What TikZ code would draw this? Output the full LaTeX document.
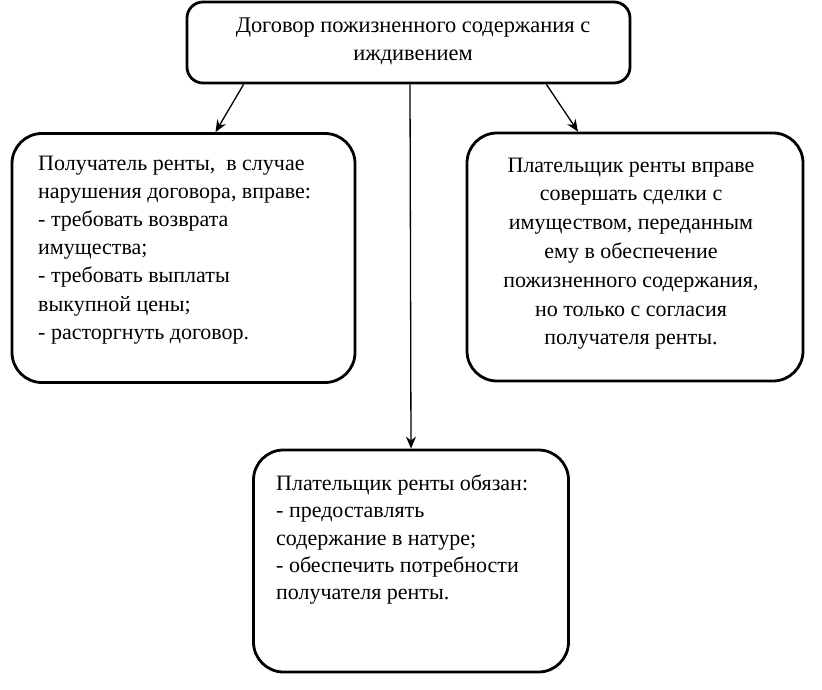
\documentclass[tikz,border=0pt]{standalone}
\usepackage{fontspec}
\setmainfont{Liberation Serif}
\usetikzlibrary{arrows.meta,calc}
\begin{document}
\begin{tikzpicture}[x=1pt,y=-1pt,
 box/.style={draw, line width=2.8pt, rounded corners=30pt, inner sep=0pt},
 txt/.style={font=\fontsize{22}{28}\selectfont, inner sep=0pt},
 arr/.style={line width=1.3pt, -{Stealth[length=12pt,width=10pt]}}]
\useasboundingbox (0,0) rectangle (822,690);
\node[box, rounded corners=16pt, minimum width=443pt, minimum height=81pt] (top) at (408.5,42.5) {};
\node[box, minimum width=343pt, minimum height=249pt] (left) at (183.5,258) {};
\node[box, minimum width=336pt, minimum height=248pt] (right) at (635,257) {};
\node[box, minimum width=315pt, minimum height=222pt] (bottom) at (411,561) {};
\node[txt, font=\fontsize{22.4}{28}\selectfont, align=center, anchor=north] (toptxt) at (413,17.5) {Договор пожизненного содержания с\\иждивением};
\node[txt, font=\fontsize{22}{28.2}\selectfont, align=left, anchor=north west] (lefttxt) at (38,155.5) {Получатель ренты,\ \ в случае\\нарушения договора, вправе:\\- требовать возврата\\имущества;\\- требовать выплаты\\выкупной цены;\\- расторгнуть договор.};
\node[txt, font=\fontsize{22}{28.8}\selectfont, align=center, anchor=north] (righttxt) at (631,157.5) {Плательщик ренты вправе\\совершать сделки с\\имуществом, переданным\\ему в обеспечение\\пожизненного содержания,\\но только с согласия\\получателя ренты.};
\node[txt, font=\fontsize{22}{27.3}\selectfont, align=left, anchor=north west] (bottomtxt) at (276,474.5) {Плательщик ренты обязан:\\- предоставлять\\содержание в натуре;\\- обеспечить потребности\\получателя ренты.};
\draw[arr] ($(top.south west)+(58,0)$) -- ($(left.north)+(32,0)$);
\draw[arr] ($(top.south)+(1.5,0)$) -- (bottom.north);
\draw[arr] ($(top.south east)+(-85,0)$) -- ($(right.north)+(-57,0)$);
\end{tikzpicture}
\end{document}
